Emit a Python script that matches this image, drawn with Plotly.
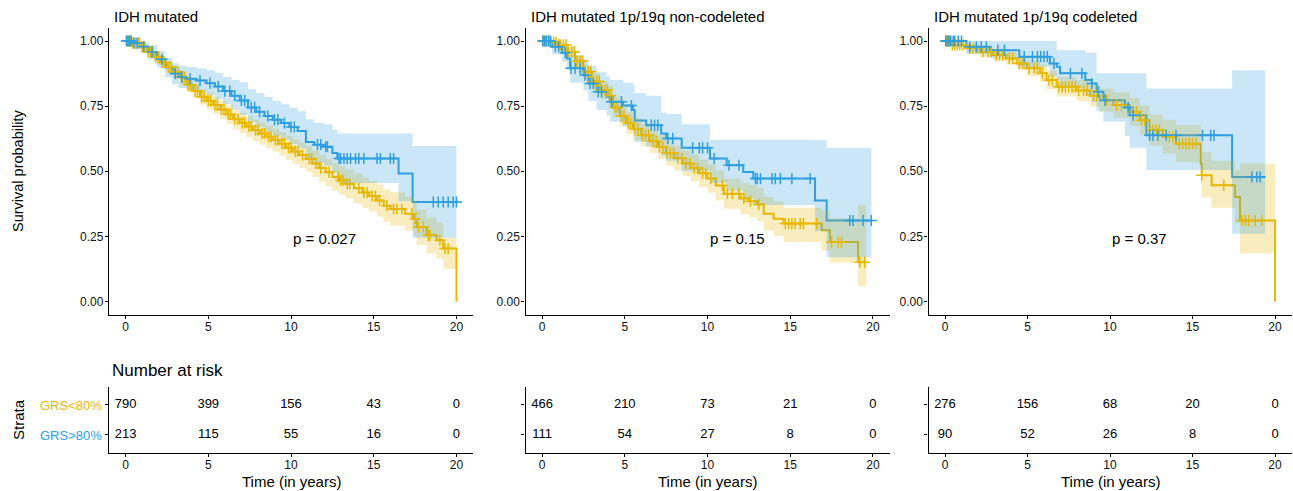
import bisect
import plotly.graph_objects as go

YELLOW = "#E7B800"
BLUE = "#2E9FDF"
YELLOW_BAND = "rgba(231,184,0,0.25)"
BLUE_BAND = "rgba(46,159,223,0.25)"
FONT = "Liberation Sans, Arial, Helvetica, sans-serif"

panel_titles = ["IDH mutated", "IDH mutated 1p/19q non-codeleted", "IDH mutated 1p/19q codeleted"]
p_values = ["p = 0.027", "p = 0.15", "p = 0.37"]
strata = ["GRS<80%", "GRS>80%"]
y_ticks = [0, 0.25, 0.5, 0.75, 1.0]
y_ticktext = ["0.00", "0.25", "0.50", "0.75", "1.00"]
risk_times = [0, 5, 10, 15, 20]

# ---------------- Panel 1: IDH mutated ----------------
p1_low_t = [0, 0.4, 0.9, 1.3, 1.7, 2.1, 2.5, 2.9, 3.3, 3.7, 4.1, 4.5, 4.9, 5.3, 5.7, 6.1, 6.5, 6.9, 7.3, 7.7,
            8.1, 8.5, 8.9, 9.3, 9.7, 10.1, 10.5, 10.9, 11.3, 11.7, 12.1, 12.5, 12.9, 13.3, 13.8, 14.3, 14.7,
            15.2, 15.6, 16.0, 16.9, 17.4, 17.6, 18.2, 18.8, 19.2, 20.0]
p1_low_s = [1.0, 0.992, 0.978, 0.958, 0.940, 0.918, 0.900, 0.882, 0.860, 0.832, 0.808, 0.786, 0.770, 0.754, 0.737,
            0.718, 0.700, 0.686, 0.672, 0.658, 0.645, 0.632, 0.620, 0.606, 0.590, 0.576, 0.562, 0.548, 0.530,
            0.512, 0.496, 0.478, 0.465, 0.452, 0.435, 0.418, 0.405, 0.388, 0.368, 0.355, 0.337, 0.318, 0.286,
            0.254, 0.235, 0.203, 0.0]
p1_low_lo = [1.0, 0.985, 0.968, 0.945, 0.924, 0.900, 0.879, 0.859, 0.835, 0.805, 0.779, 0.755, 0.737, 0.720, 0.701,
             0.681, 0.661, 0.646, 0.631, 0.616, 0.602, 0.588, 0.575, 0.560, 0.543, 0.528, 0.513, 0.498, 0.479,
             0.460, 0.443, 0.424, 0.410, 0.396, 0.377, 0.359, 0.345, 0.326, 0.305, 0.291, 0.272, 0.252, 0.218,
             0.185, 0.165, 0.126, None]
p1_low_hi = [1.0, 0.998, 0.988, 0.970, 0.955, 0.935, 0.920, 0.904, 0.884, 0.858, 0.836, 0.816, 0.802, 0.787, 0.772,
             0.755, 0.738, 0.725, 0.712, 0.699, 0.687, 0.675, 0.664, 0.651, 0.636, 0.623, 0.610, 0.597, 0.580,
             0.563, 0.548, 0.531, 0.519, 0.507, 0.492, 0.476, 0.464, 0.449, 0.431, 0.419, 0.402, 0.384, 0.352,
             0.322, 0.302, 0.245, None]
p1_low_end = 20.0
p1_low_cens = [0.1, 0.2, 0.3, 0.45, 0.6, 0.75, 0.85, 1.0, 1.15, 1.35, 1.5, 1.65, 1.8, 2.0, 2.2, 2.35, 2.6, 2.75,
               3.0, 3.15, 3.4, 3.55, 3.8, 3.95, 4.2, 4.35, 4.6, 4.75, 5.0, 5.15, 5.4, 5.55, 5.8, 5.95, 6.2, 6.35,
               6.6, 6.8, 7.05, 7.2, 7.45, 7.6, 7.85, 8.0, 8.25, 8.4, 8.65, 8.8, 9.05, 9.2, 9.45, 9.6, 9.85, 10.0,
               10.25, 10.4, 10.7, 11.1, 11.25, 11.5, 11.8, 12.3, 12.85, 13.0, 13.15, 13.4, 13.55, 14.1, 14.4,
               14.6, 14.9, 15.1, 15.35, 15.8, 16.2, 16.4, 16.7, 17.3, 17.5, 17.7, 18.0, 18.3, 18.4, 19.0, 19.3, 19.5]

p1_high_t = [0, 0.4, 0.9, 1.4, 1.9, 2.4, 2.8, 3.2, 3.7, 4.3, 4.9, 5.4, 5.9, 6.4, 6.9, 7.4, 7.9, 8.4, 8.9, 9.4,
             9.9, 10.4, 10.9, 11.4, 12.0, 12.5, 12.8, 16.5, 17.35]
p1_high_s = [1.0, 0.992, 0.978, 0.958, 0.930, 0.898, 0.875, 0.862, 0.855, 0.848, 0.838, 0.825, 0.808, 0.790, 0.772,
             0.745, 0.728, 0.712, 0.698, 0.685, 0.670, 0.655, 0.612, 0.602, 0.594, 0.570, 0.549, 0.491, 0.382]
p1_high_lo = [1.0, 0.978, 0.958, 0.930, 0.897, 0.860, 0.834, 0.820, 0.812, 0.803, 0.791, 0.776, 0.757, 0.737, 0.717,
              0.688, 0.669, 0.652, 0.636, 0.622, 0.605, 0.588, 0.545, 0.531, 0.521, 0.495, 0.455, 0.385, 0.245]
p1_high_hi = [1.0, 1.0, 0.995, 0.985, 0.962, 0.935, 0.915, 0.905, 0.900, 0.895, 0.888, 0.877, 0.862, 0.850, 0.842,
              0.815, 0.800, 0.785, 0.770, 0.757, 0.744, 0.730, 0.700, 0.685, 0.680, 0.660, 0.645, 0.645, 0.597]
p1_high_end = 20.0
p1_high_cens = [0.05, 0.15, 0.25, 0.35, 0.5, 0.7, 1.1, 1.6, 2.2, 3.0, 3.4, 3.9, 4.5, 5.1, 5.6, 6.0, 6.3, 6.6, 7.0,
                7.2, 7.6, 7.8, 8.1, 8.6, 9.0, 9.2, 9.6, 10.0, 10.2, 11.6, 11.8, 12.1, 12.2, 12.9, 13.0, 13.2, 13.4,
                13.6, 13.9, 14.1, 14.4, 15.2, 15.4, 16.0, 16.2, 18.6, 18.9, 19.2, 19.5, 19.8, 20.0]

p1_risk_low = [790, 399, 156, 43, 0]
p1_risk_high = [213, 115, 55, 16, 0]

# ---------------- Panel 2: 1p/19q non-codeleted ----------------
p2_low_t = [0, 0.5, 1.0, 1.5, 2.0, 2.5, 3.0, 3.5, 4.0, 4.3, 4.7, 5.1, 5.5, 6.0, 6.5, 7.0, 7.5, 8.0, 8.5, 9.0,
            9.5, 10.0, 10.5, 11.0, 12.0, 12.5, 13.0, 13.4, 14.0, 14.6, 16.9, 17.4, 19.1]
p2_low_s = [1.0, 0.995, 0.985, 0.958, 0.922, 0.882, 0.845, 0.812, 0.790, 0.745, 0.712, 0.685, 0.662, 0.638, 0.615,
            0.593, 0.570, 0.550, 0.530, 0.512, 0.492, 0.472, 0.445, 0.414, 0.395, 0.385, 0.372, 0.337, 0.318,
            0.299, 0.273, 0.228, 0.151]
p2_low_lo = [1.0, 0.988, 0.975, 0.938, 0.898, 0.853, 0.813, 0.778, 0.754, 0.706, 0.671, 0.643, 0.619, 0.594, 0.570,
             0.547, 0.522, 0.502, 0.482, 0.462, 0.439, 0.417, 0.388, 0.356, 0.335, 0.323, 0.309, 0.272, 0.252,
             0.228, 0.196, 0.150, 0.058]
p2_low_hi = [1.0, 1.0, 0.995, 0.978, 0.946, 0.910, 0.876, 0.846, 0.826, 0.784, 0.753, 0.727, 0.705, 0.682, 0.660,
             0.640, 0.618, 0.598, 0.580, 0.563, 0.545, 0.527, 0.502, 0.472, 0.455, 0.447, 0.435, 0.402, 0.384,
             0.360, 0.350, 0.320, 0.370]
p2_low_end = 19.6
p2_low_cens = [0.05, 0.1, 0.2, 0.3, 0.4, 0.55, 0.7, 0.85, 1.0, 1.1, 1.3, 1.45, 1.6, 1.8, 1.95, 2.1, 2.3, 2.45, 2.6,
               2.8, 2.95, 3.1, 3.3, 3.45, 3.6, 3.8, 3.95, 4.15, 4.4, 4.55, 4.8, 4.95, 5.2, 5.35, 5.6, 5.8, 6.05,
               6.25, 6.45, 6.7, 6.9, 7.1, 7.3, 7.55, 7.75, 7.95, 8.2, 8.45, 8.7, 8.95, 9.2, 9.4, 9.7, 9.9, 10.2,
               10.9, 11.2, 11.5, 11.9, 12.2, 12.6, 13.1, 14.7, 14.9, 15.1, 15.3, 15.6, 15.8, 16.6, 17.5, 17.9,
               18.1, 19.2, 19.5]

p2_high_t = [0, 0.6, 1.2, 1.5, 1.7, 2.5, 2.8, 3.3, 3.9, 4.1, 4.9, 5.5, 5.6, 6.3, 7.2, 7.5, 8.44, 10.15, 11.16,
             12.16, 12.77, 16.5, 17.2]
p2_high_s = [1.0, 0.978, 0.955, 0.933, 0.895, 0.869, 0.837, 0.805, 0.786, 0.767, 0.752, 0.735, 0.695, 0.677, 0.645,
             0.626, 0.590, 0.549, 0.523, 0.497, 0.472, 0.388, 0.311]
p2_high_lo = [1.0, 0.950, 0.920, 0.890, 0.840, 0.810, 0.770, 0.735, 0.715, 0.690, 0.675, 0.655, 0.612, 0.595, 0.560,
              0.540, 0.500, 0.455, 0.425, 0.395, 0.370, 0.270, 0.170]
p2_high_hi = [1.0, 1.0, 0.985, 0.970, 0.945, 0.930, 0.905, 0.880, 0.865, 0.850, 0.840, 0.830, 0.800, 0.790, 0.725,
              0.720, 0.680, 0.620, 0.620, 0.620, 0.620, 0.620, 0.590]
p2_high_end = 19.9
p2_high_cens = [0.05, 0.15, 0.25, 0.4, 0.5, 0.8, 1.0, 1.4, 1.75, 2.0, 2.3, 2.6, 2.9, 3.1, 3.4, 3.6, 4.2, 4.8, 5.4,
                6.6, 6.8, 7.0, 7.6, 7.9, 9.1, 9.5, 9.7, 10.0, 10.4, 11.3, 11.9, 12.9, 13.0, 13.2, 13.9, 14.1,
                14.4, 15.1, 16.2, 18.6, 18.8, 19.4, 19.9]

p2_risk_low = [466, 210, 73, 21, 0]
p2_risk_high = [111, 54, 27, 8, 0]

# ---------------- Panel 3: 1p/19q codeleted ----------------
p3_low_t = [0, 0.4, 1.3, 2.1, 2.9, 3.7, 4.35, 4.95, 5.76, 6.16, 6.77, 7.98, 8.79, 9.39, 10.2, 11.2, 11.8, 12.4,
            13.2, 14.0, 15.5, 15.56, 16.16, 17.58, 17.88, 20.0]
p3_low_s = [1.0, 0.985, 0.972, 0.959, 0.946, 0.933, 0.914, 0.895, 0.876, 0.850, 0.824, 0.810, 0.790, 0.773, 0.754,
            0.728, 0.696, 0.658, 0.632, 0.606, 0.530, 0.485, 0.446, 0.401, 0.311, 0.0]
p3_low_lo = [1.0, 0.975, 0.957, 0.940, 0.925, 0.910, 0.888, 0.865, 0.843, 0.815, 0.787, 0.770, 0.748, 0.728, 0.705,
             0.675, 0.640, 0.598, 0.568, 0.535, 0.450, 0.400, 0.360, 0.300, 0.185, None]
p3_low_hi = [1.0, 0.995, 0.987, 0.978, 0.968, 0.958, 0.942, 0.925, 0.910, 0.887, 0.862, 0.850, 0.833, 0.818, 0.803,
             0.780, 0.752, 0.718, 0.698, 0.678, 0.615, 0.575, 0.540, 0.505, 0.530, None]
p3_low_end = 20.0
p3_low_cens = [0.05, 0.1, 0.2, 0.3, 0.45, 0.6, 0.75, 0.9, 1.1, 1.5, 1.7, 1.9, 2.3, 2.6, 2.8, 3.1, 3.3, 3.5, 3.9,
               4.1, 4.5, 4.7, 5.1, 5.4, 5.6, 5.9, 6.3, 6.5, 6.9, 7.1, 7.3, 7.5, 7.7, 7.9, 8.1, 8.4, 8.6, 9.0, 9.2,
               9.8, 10.4, 10.7, 11.4, 11.6, 11.9, 12.1, 12.6, 12.8, 13.0, 13.6, 13.8, 14.2, 14.4, 14.6, 14.8,
               15.0, 15.2, 15.56, 16.9, 18.0, 18.2, 18.4, 18.8, 19.2]

p3_high_t = [0, 1.3, 2.7, 4.5, 6.36, 6.77, 6.97, 8.5, 8.89, 9.19, 9.6, 10.9, 11.2, 12.2, 17.4]
p3_high_s = [1.0, 0.978, 0.965, 0.940, 0.914, 0.901, 0.876, 0.850, 0.837, 0.805, 0.773, 0.745, 0.715, 0.638, 0.478]
p3_high_lo = [1.0, 0.950, 0.935, 0.900, 0.865, 0.850, 0.820, 0.790, 0.765, 0.730, 0.690, 0.635, 0.590, 0.505, 0.260]
p3_high_hi = [1.0, 1.0, 1.0, 1.0, 1.0, 0.965, 0.965, 0.955, 0.955, 0.876, 0.876, 0.876, 0.876, 0.818, 0.888]
p3_high_end = 19.4
p3_high_cens = [0.05, 0.15, 0.25, 0.35, 0.5, 0.6, 0.8, 1.0, 1.5, 1.9, 2.2, 2.5, 3.2, 3.6, 4.8, 5.3, 5.6, 5.8, 6.0,
                6.2, 6.6, 7.6, 8.3, 8.9, 9.3, 9.7, 11.1, 11.4, 12.4, 12.6, 12.9, 13.4, 14.0, 15.6, 16.1, 16.3,
                18.6, 18.9, 19.1]

p3_risk_low = [276, 156, 68, 20, 0]
p3_risk_high = [90, 52, 26, 8, 0]

# ---------------- Layout geometry (pixels) ----------------
W, H = 1293, 491
panel_x_px = [(109, 473), (525.5, 889.5), (928.5, 1291.5)]
main_y_px = (28, 314.5)
table_y_px = (386.7, 453)


def px_x(p):
    return p / W


def px_y(p):
    return 1 - p / H


def surv_at(t, s, x):
    i = bisect.bisect_right(t, x) - 1
    return s[max(i, 0)]


def band_xy(t, lo, hi, end):
    xu, yu, xl, yl = [], [], [], []
    n = len(t)
    for i in range(n):
        if lo[i] is None:
            break
        t1 = t[i + 1] if i + 1 < n else end
        xu += [t[i], t1]
        yu += [hi[i], hi[i]]
        xl += [t[i], t1]
        yl += [lo[i], lo[i]]
    return xu + xl[::-1], yu + yl[::-1]


panels = [
    dict(low=(p1_low_t, p1_low_s, p1_low_lo, p1_low_hi, p1_low_end, p1_low_cens),
         high=(p1_high_t, p1_high_s, p1_high_lo, p1_high_hi, p1_high_end, p1_high_cens),
         risk=(p1_risk_low, p1_risk_high)),
    dict(low=(p2_low_t, p2_low_s, p2_low_lo, p2_low_hi, p2_low_end, p2_low_cens),
         high=(p2_high_t, p2_high_s, p2_high_lo, p2_high_hi, p2_high_end, p2_high_cens),
         risk=(p2_risk_low, p2_risk_high)),
    dict(low=(p3_low_t, p3_low_s, p3_low_lo, p3_low_hi, p3_low_end, p3_low_cens),
         high=(p3_high_t, p3_high_s, p3_high_lo, p3_high_hi, p3_high_end, p3_high_cens),
         risk=(p3_risk_low, p3_risk_high)),
]

fig = go.Figure()
layout_axes = {}
annotations = []

axis_common = dict(showgrid=False, zeroline=False, showline=True, linecolor="black", linewidth=1.3,
                   ticks="outside", ticklen=3, tickwidth=1.1, tickcolor="black",
                   tickfont=dict(family=FONT, size=12, color="#111111"))

for k, pan in enumerate(panels):
    mi = 1 + k        # main axes index
    ti = 4 + k        # table axes index
    mx = "x" if mi == 1 else f"x{mi}"
    my = "y" if mi == 1 else f"y{mi}"
    tx, ty = f"x{ti}", f"y{ti}"
    x0, x1 = panel_x_px[k]

    groups = [(pan["low"], YELLOW, YELLOW_BAND), (pan["high"], BLUE, BLUE_BAND)]
    # survival step lines
    for (t, s, lo, hi, end, cens), col, band in groups:
        xs = list(t) + ([end] if end > t[-1] else [])
        ys = list(s) + ([s[-1]] if end > t[-1] else [])
        fig.add_trace(go.Scatter(x=xs, y=ys, mode="lines", line=dict(color=col, width=2, shape="hv"),
                                 xaxis=mx, yaxis=my, showlegend=False, hoverinfo="skip"))
    # confidence bands
    for (t, s, lo, hi, end, cens), col, band in groups:
        bx, by = band_xy(t, lo, hi, end)
        fig.add_trace(go.Scatter(x=bx, y=by, mode="lines", fill="toself", fillcolor=band,
                                 line=dict(width=0, color=band), xaxis=mx, yaxis=my,
                                 showlegend=False, hoverinfo="skip"))
    # censor marks
    for (t, s, lo, hi, end, cens), col, band in groups:
        cy = [surv_at(t, s, c) for c in cens]
        fig.add_trace(go.Scatter(x=cens, y=cy, mode="markers",
                                 marker=dict(symbol="cross-thin", size=8, color=col,
                                             line=dict(color=col, width=1.5)),
                                 xaxis=mx, yaxis=my, showlegend=False, hoverinfo="skip"))

    # risk table numbers
    risk_low, risk_high = pan["risk"]
    fig.add_trace(go.Scatter(x=risk_times, y=[2] * len(risk_times), mode="text",
                             text=[str(v) for v in risk_low],
                             textfont=dict(family=FONT, size=13, color="black"),
                             xaxis=tx, yaxis=ty, showlegend=False, hoverinfo="skip"))
    fig.add_trace(go.Scatter(x=risk_times, y=[1] * len(risk_times), mode="text",
                             text=[str(v) for v in risk_high],
                             textfont=dict(family=FONT, size=13, color="black"),
                             xaxis=tx, yaxis=ty, showlegend=False, hoverinfo="skip"))

    xdom = [px_x(x0), px_x(x1)]
    layout_axes["xaxis" if mi == 1 else f"xaxis{mi}"] = dict(
        axis_common, domain=xdom, range=[-1, 21], tickvals=risk_times, anchor=my, ticklabelstandoff=-2)
    layout_axes["yaxis" if mi == 1 else f"yaxis{mi}"] = dict(
        axis_common, domain=[px_y(main_y_px[1]), px_y(main_y_px[0])], range=[-0.05, 1.05],
        tickvals=y_ticks, ticktext=y_ticktext, anchor=mx, ticklabelstandoff=-1)
    layout_axes[f"xaxis{ti}"] = dict(
        axis_common, domain=xdom, range=[-1, 21], tickvals=risk_times, anchor=ty, ticklabelstandoff=-3)
    layout_axes[f"yaxis{ti}"] = dict(
        axis_common, domain=[px_y(table_y_px[1]), px_y(table_y_px[0])], range=[0.4, 2.6],
        tickvals=[1, 2], showticklabels=False, anchor=tx)

    # panel title
    annotations.append(dict(text=panel_titles[k], x=px_x(x0 + 3), y=px_y(17), xref="paper", yref="paper",
                            xanchor="left", yanchor="middle", showarrow=False,
                            font=dict(family=FONT, size=15, color="black")))
    # p-value
    annotations.append(dict(text=p_values[k], x=10, y=0.24, xref=mx, yref=my, xanchor="left",
                            yanchor="middle", showarrow=False, font=dict(family=FONT, size=15, color="black")))
    # x-axis title under table
    annotations.append(dict(text="Time (in years)", x=px_x((x0 + x1) / 2), y=px_y(481.5), xref="paper",
                            yref="paper", xanchor="center", yanchor="middle", showarrow=False,
                            font=dict(family=FONT, size=15, color="black")))

annotations.append(dict(text="Survival probability", x=px_x(18), y=px_y(171), xref="paper", yref="paper",
                        textangle=-90, xanchor="center", yanchor="middle", showarrow=False,
                        font=dict(family=FONT, size=14.5, color="black")))
annotations.append(dict(text="Number at risk", x=px_x(110), y=px_y(370), xref="paper", yref="paper",
                        xanchor="left", yanchor="middle", showarrow=False,
                        font=dict(family=FONT, size=17, color="black")))
annotations.append(dict(text="Strata", x=px_x(18), y=px_y(420), xref="paper", yref="paper",
                        textangle=-90, xanchor="center", yanchor="middle", showarrow=False,
                        font=dict(family=FONT, size=15, color="black")))
annotations.append(dict(text=strata[0], x=px_x(104), y=px_y(405.5), xref="paper", yref="paper",
                        xanchor="right", yanchor="middle", showarrow=False,
                        font=dict(family=FONT, size=13, color=YELLOW)))
annotations.append(dict(text=strata[1], x=px_x(104), y=px_y(435.5), xref="paper", yref="paper",
                        xanchor="right", yanchor="middle", showarrow=False,
                        font=dict(family=FONT, size=13, color=BLUE)))

fig.update_layout(width=W, height=H, margin=dict(l=0, r=0, t=0, b=0), paper_bgcolor="white",
                  plot_bgcolor="white", showlegend=False, annotations=annotations,
                  font=dict(family=FONT), **layout_axes)

fig.write_html("out.html")
